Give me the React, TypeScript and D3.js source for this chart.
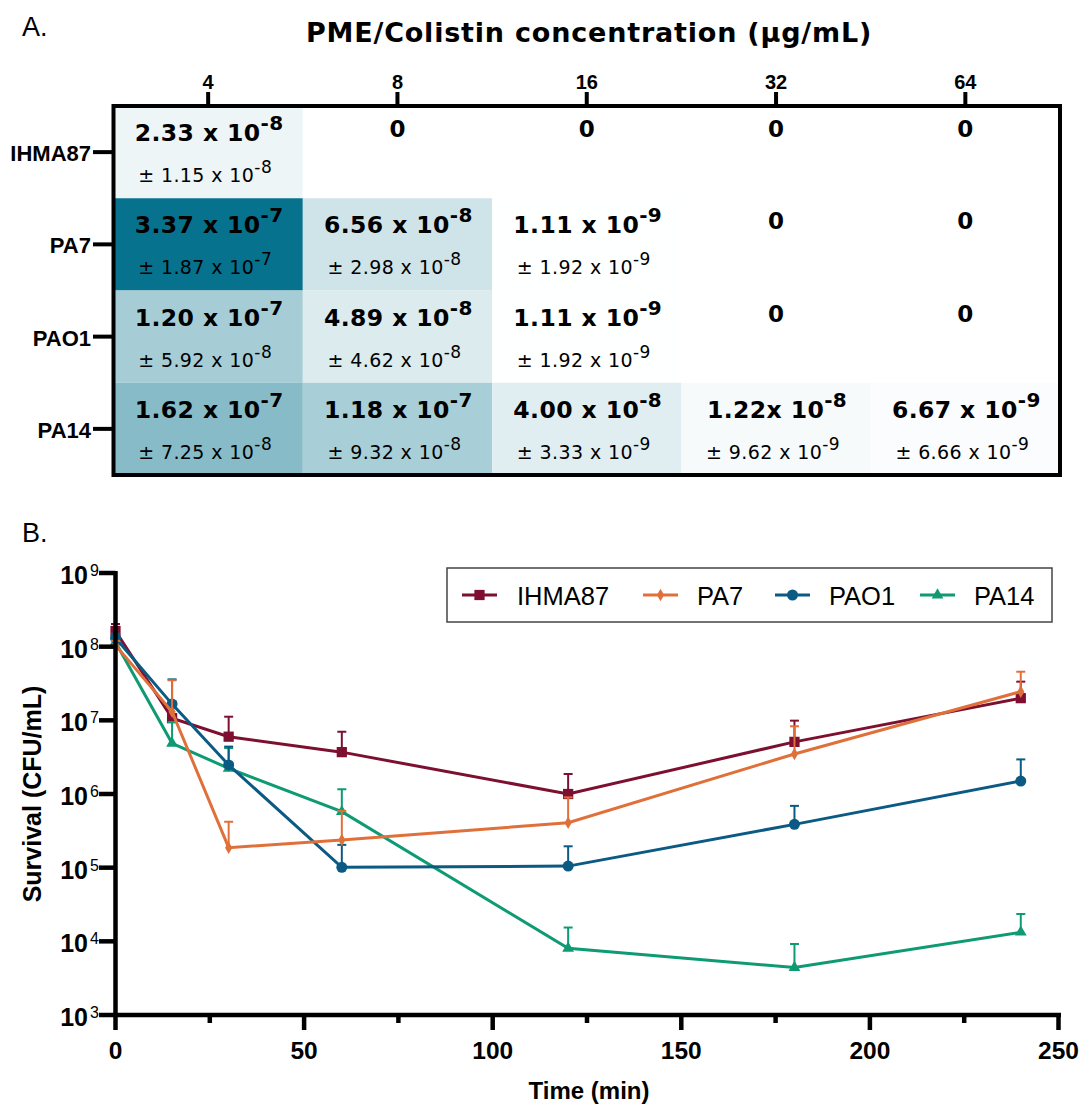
import React from "react";
import * as d3 from "d3";

// ---------- Panel A data ----------
const strains = ["IHMA87", "PA7", "PAO1", "PA14"];
const concentrations = ["4", "8", "16", "32", "64"];
const meanIHMA87 = [2.33e-8, 0, 0, 0, 0];
const meanPA7 = [3.37e-7, 6.56e-8, 1.11e-9, 0, 0];
const meanPAO1 = [1.2e-7, 4.89e-8, 1.11e-9, 0, 0];
const meanPA14 = [1.62e-7, 1.18e-7, 4.0e-8, 1.22e-8, 6.67e-9];
const sdIHMA87 = [1.15e-8, 0, 0, 0, 0];
const sdPA7 = [1.87e-7, 2.98e-8, 1.92e-9, 0, 0];
const sdPAO1 = [5.92e-8, 4.62e-8, 1.92e-9, 0, 0];
const sdPA14 = [7.25e-8, 9.32e-8, 3.33e-9, 9.62e-9, 6.66e-9];

// ---------- Panel B data ----------
const times = [0, 15, 30, 60, 120, 180, 240];
const survIHMA87 = [1.63e8, 1.07e7, 6.0e6, 3.7e6, 1.0e6, 5.1e6, 2.0e7];
const topIHMA87 = [2.03e8, 1.79e7, 1.12e7, 7.0e6, 1.87e6, 9.9e6, 3.35e7];
const survPA7 = [1.05e8, 1.31e7, 1.87e5, 2.38e5, 4.07e5, 3.49e6, 2.45e7];
const topPA7 = [1.2e8, 3.5e7, 4.2e5, 5.9e5, 9.0e5, 8.3e6, 4.57e7];
const survPAO1 = [1.31e8, 1.66e7, 2.48e6, 1.01e5, 1.05e5, 3.87e5, 1.5e6];
const topPAO1 = [1.5e8, 3.6e7, 4.4e6, 2.04e5, 1.95e5, 6.9e5, 2.95e6];
const survPA14 = [1.15e8, 4.87e6, 2.23e6, 5.75e5, 8.06e3, 4.4e3, 1.33e4];
const topPA14 = [1.3e8, 9.5e6, 4.2e6, 1.16e6, 1.54e4, 9.2e3, 2.35e4];

const xTicks = [0, 50, 100, 150, 200, 250];
const xMinorTicks = [25, 75, 125, 175, 225];
const yTicks = [1e3, 1e4, 1e5, 1e6, 1e7, 1e8, 1e9];

const means = [meanIHMA87, meanPA7, meanPAO1, meanPA14];
const sds = [sdIHMA87, sdPA7, sdPAO1, sdPA14];

const series = [
  { name: "IHMA87", surv: survIHMA87, top: topIHMA87, color: "#7d1030", symbol: d3.symbolSquare, size: 105 },
  { name: "PA7", surv: survPA7, top: topPA7, color: "#e0703a", symbol: d3.symbolDiamond, size: 45 },
  { name: "PAO1", surv: survPAO1, top: topPAO1, color: "#0b5a84", symbol: d3.symbolCircle, size: 95 },
  { name: "PA14", surv: survPA14, top: topPA14, color: "#0e9a73", symbol: d3.symbolTriangle, size: 60 },
];
const drawOrder = ["IHMA87", "PA14", "PAO1", "PA7"];

const ARIAL = "'Liberation Sans', Arial, sans-serif";
const DEJAVU = "'DejaVu Sans', sans-serif";

function splitExp(v: number) {
  const [m, e] = v.toExponential(2).split("e");
  return { m, e: String(parseInt(e, 10)) };
}

export default function App() {
  // Heatmap scales
  const xBand = d3.scaleBand().domain(concentrations).range([113.5, 1060]);
  const yBand = d3.scaleBand().domain(strains).range([106, 475]);
  const maxVal = d3.max(means.flat()) as number;
  const color = d3
    .scaleLinear<string>()
    .domain([0, maxVal])
    .range(["#ffffff", "#06728d"])
    .interpolate(d3.interpolateRgb);

  // Line chart scales
  const x = d3.scaleLinear().domain([0, 250]).range([115.5, 1058.5]);
  const y = d3.scaleLog().domain([1e3, 1e9]).range([1015, 573]);
  const line = d3
    .line<number>()
    .x((_, i) => x(times[i]))
    .y((d) => y(d));

  const legendLineX = [462, 643, 775, 920];
  const legendTextX = [517, 697, 829, 974];

  return (
    <svg
      width={1084}
      height={1104}
      style={{ position: "absolute", left: 0, top: 0, display: "block", background: "#fff" }}
    >
      <rect x={0} y={0} width={1084} height={1104} fill="#fff" />
      {/* Panel A */}
      <text x={22} y={36} fontFamily={ARIAL} fontSize={27}>A.</text>
      <text
        x={589}
        y={42}
        textAnchor="middle"
        fontFamily={DEJAVU}
        fontWeight="bold"
        fontSize={27}
        letterSpacing={0.8}
      >
        PME/Colistin concentration (µg/mL)
      </text>

      {strains.map((s, r) =>
        concentrations.map((c, ci) => {
          const v = means[r][ci];
          const x0 = xBand(c)!;
          const y0 = yBand(s)!;
          const cx = x0 + xBand.bandwidth() / 2;
          return (
            <g key={s + c}>
              <rect x={x0} y={y0} width={xBand.bandwidth()} height={yBand.bandwidth()} fill={color(v)} />
              {v === 0 ? (
                <text x={cx} y={y0 + 31} textAnchor="middle" fontFamily={DEJAVU} fontWeight="bold" fontSize={23}>
                  0
                </text>
              ) : (
                (() => {
                  const a = splitExp(v);
                  const b = splitExp(sds[r][ci]);
                  const tight = r === 3 && ci === 3;
                  return (
                    <>
                      <text
                        x={cx + 1}
                        y={y0 + 35}
                        textAnchor="middle"
                        fontFamily={DEJAVU}
                        fontWeight="bold"
                        fontSize={23.5}
                        letterSpacing={0.4}
                      >
                        {a.m + (tight ? "x 10" : " x 10")}
                        <tspan dy={-11} fontSize={20}>{a.e}</tspan>
                      </text>
                      <text
                        x={cx - 3}
                        y={y0 + 76}
                        textAnchor="middle"
                        fontFamily={DEJAVU}
                        fontSize={19}
                        letterSpacing={0.4}
                      >
                        {"± " + b.m + " x 10"}
                        <tspan dy={-9} fontSize={17}>{b.e}</tspan>
                      </text>
                    </>
                  );
                })()
              )}
            </g>
          );
        })
      )}
      <rect x={113.5} y={106} width={946.5} height={369} fill="none" stroke="#000" strokeWidth={4} />
      {concentrations.map((c) => {
        const cx = xBand(c)! + xBand.bandwidth() / 2;
        return (
          <g key={"ct" + c}>
            <line x1={cx} x2={cx} y1={92} y2={106} stroke="#000" strokeWidth={4} />
            <text x={cx} y={89} textAnchor="middle" fontFamily={ARIAL} fontWeight="bold" fontSize={20}>
              {c}
            </text>
          </g>
        );
      })}
      {strains.map((s) => {
        const cy = yBand(s)! + yBand.bandwidth() / 2;
        return (
          <g key={"rt" + s}>
            <line x1={93} x2={113.5} y1={cy} y2={cy} stroke="#000" strokeWidth={4} />
            <text x={91} y={cy + 9} textAnchor="end" fontFamily={ARIAL} fontWeight="bold" fontSize={22}>
              {s}
            </text>
          </g>
        );
      })}

      {/* Panel B */}
      <text x={22} y={542} fontFamily={ARIAL} fontSize={27}>B.</text>

      {/* Legend */}
      <rect x={447} y={568} width={605} height={54} fill="#fff" stroke="#444" strokeWidth={1.5} />
      {series.map((s, i) => (
        <g key={"lg" + s.name}>
          <line x1={legendLineX[i]} x2={legendLineX[i] + 35} y1={595} y2={595} stroke={s.color} strokeWidth={3} />
          <path
            d={d3.symbol().type(s.symbol).size(s.size)()!}
            transform={`translate(${legendLineX[i] + 17.5},${595})`}
            fill={s.color}
          />
          <text x={legendTextX[i]} y={605} fontFamily={ARIAL} fontSize={25.5}>
            {s.name}
          </text>
        </g>
      ))}

      {/* Series */}
      {drawOrder.map((n) => {
        const s = series.find((d) => d.name === n)!;
        return (
          <g key={"s" + n}>
            <path d={line(s.surv)!} fill="none" stroke={s.color} strokeWidth={3} />
            {s.surv.map((v, i) => {
              const px = x(times[i]);
              const yt = y(s.top[i]);
              return (
                <g key={i}>
                  <line x1={px} x2={px} y1={y(v)} y2={yt} stroke={s.color} strokeWidth={2} />
                  <line x1={px - 4.5} x2={px + 4.5} y1={yt} y2={yt} stroke={s.color} strokeWidth={2} />
                  <path
                    d={d3.symbol().type(s.symbol).size(s.size)()!}
                    transform={`translate(${px},${y(v)})`}
                    fill={s.color}
                  />
                </g>
              );
            })}
          </g>
        );
      })}

      {/* Axes */}
      <line x1={115.5} x2={115.5} y1={571} y2={1017} stroke="#000" strokeWidth={4.5} />
      <line x1={113.3} x2={1061} y1={1015} y2={1015} stroke="#000" strokeWidth={4.5} />
      {yTicks.map((t) => (
        <g key={"yt" + t}>
          <line x1={99} x2={115.5} y1={y(t)} y2={y(t)} stroke="#000" strokeWidth={4.5} />
          <text x={88} y={y(t) + 11} textAnchor="end" fontFamily={ARIAL} fontWeight="bold" fontSize={25}>
            10
          </text>
          <text x={90} y={y(t) + 3} fontFamily={ARIAL} fontSize={16}>
            {Math.round(Math.log10(t))}
          </text>
        </g>
      ))}
      {xTicks.map((t) => (
        <g key={"xt" + t}>
          <line x1={x(t)} x2={x(t)} y1={1015} y2={1030} stroke="#000" strokeWidth={4.5} />
          <text x={x(t)} y={1059} textAnchor="middle" fontFamily={ARIAL} fontWeight="bold" fontSize={24.5}>
            {t}
          </text>
        </g>
      ))}
      {xMinorTicks.map((t) => (
        <line key={"xm" + t} x1={x(t)} x2={x(t)} y1={1015} y2={1023} stroke="#000" strokeWidth={4.5} />
      ))}
      <text x={589} y={1099} textAnchor="middle" fontFamily={ARIAL} fontWeight="bold" fontSize={24}>
        Time (min)
      </text>
      <text
        transform="translate(41,794) rotate(-90)"
        textAnchor="middle"
        fontFamily={ARIAL}
        fontWeight="bold"
        fontSize={25}
      >
        Survival (CFU/mL)
      </text>
    </svg>
  );
}
